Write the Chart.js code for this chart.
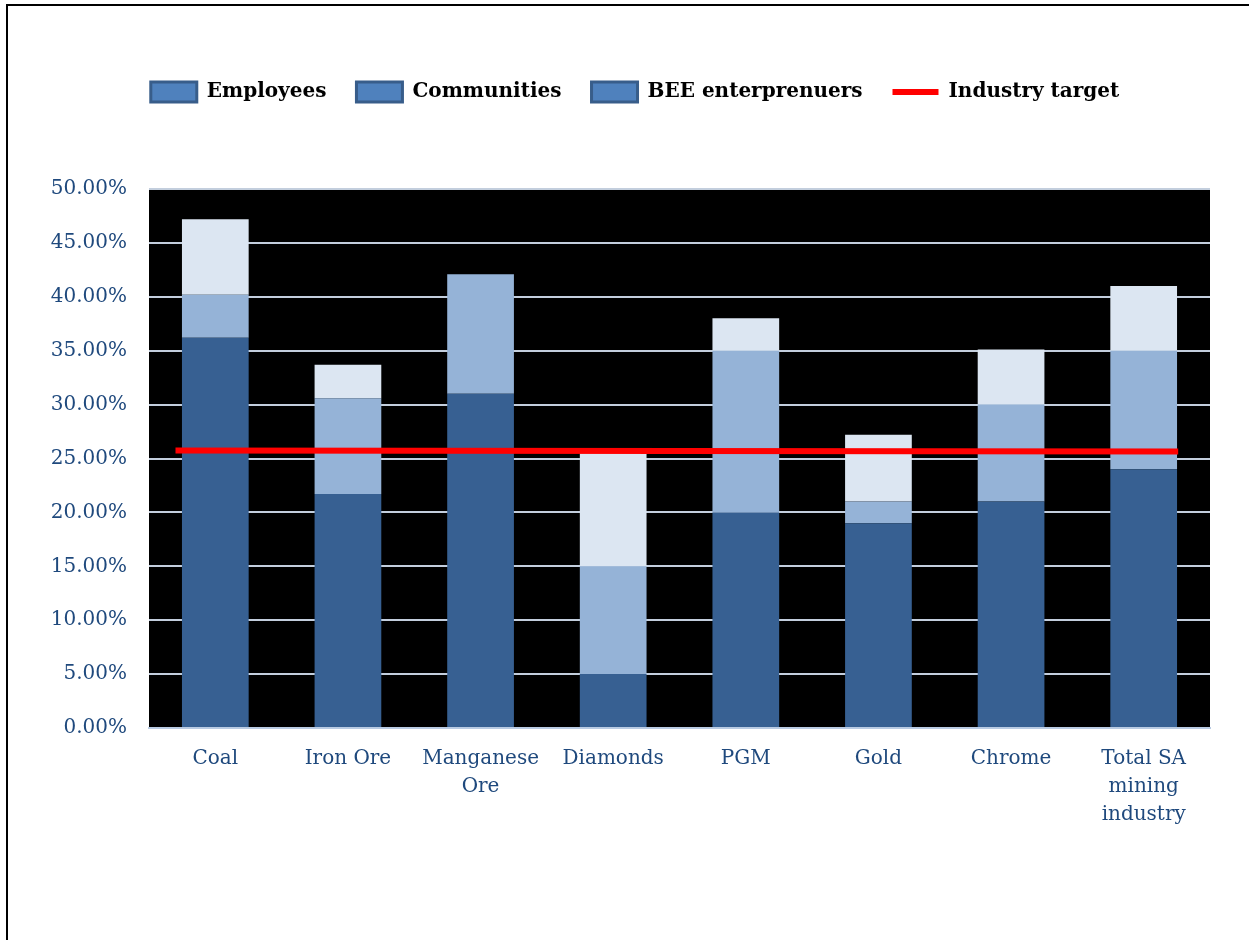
<!DOCTYPE html>
<html>
<head>
<meta charset="utf-8">
<title>Ownership by sector</title>
<script src="https://cdn.jsdelivr.net/npm/chart.js@4/dist/chart.umd.min.js"></script>
<style>
  html, body { margin: 0; padding: 0; background: #ffffff; }
  #wrap { position: relative; width: 1249px; height: 940px; overflow: hidden; }
  #frame { position: absolute; left: 6px; top: 4px; width: 1300px; height: 1000px;
           border-top: 2px solid #000; border-left: 2px solid #000; pointer-events: none; }
  canvas { position: absolute; left: 0; top: 0; }
</style>
</head>
<body>
<div id="wrap">
  <canvas id="chart" width="1249" height="940"></canvas>
  <div id="frame"></div>
</div>
<script>
// Sectors along the x axis
const categories = ['Coal', 'Iron Ore', ['Manganese', 'Ore'], 'Diamonds', 'PGM', 'Gold', 'Chrome', ['Total SA', 'mining', 'industry']];

// Stacked ownership shares, in percent
const employees        = [36.2, 21.7, 31.0, 5.0, 20.0, 19.0, 21.0, 24.0];
const communities      = [4.0, 8.9, 11.1, 10.0, 15.0, 2.0, 9.0, 11.0];
const beeEntrepreneurs = [7.0, 3.1, 0.0, 10.5, 3.0, 6.2, 5.1, 6.0];

// Industry target line: category-index span and value at each end
const targetSpan  = [-0.3, 7.26];
const targetValue = [25.75, 25.65];

// Y axis ticks
const yTicks = [0, 5, 10, 15, 20, 25, 30, 35, 40, 45, 50];

const seriesNames = ['Employees', 'Communities', 'BEE enterprenuers', 'Industry target'];

Chart.defaults.font.family = "'DejaVu Serif', serif";

// Black plotting area behind grid and bars
const plotBackground = {
  id: 'plotBackground',
  beforeDraw(chart) {
    const { ctx, chartArea: a } = chart;
    ctx.save();
    ctx.fillStyle = '#000000';
    ctx.fillRect(a.left, a.top, a.right - a.left, a.bottom - a.top);
    ctx.restore();
  }
};

// Extra room under the legend, and a small horizontal nudge of the legend row
const legendSpace = {
  id: 'legendSpace',
  beforeInit(chart) {
    const fit = chart.legend.fit;
    chart.legend.fit = function () {
      fit.call(this);
      this.height = 137;
    };
  },
  afterLayout(chart) {
    const lg = chart.legend;
    lg.left += 15;
    lg.right += 15;
  }
};

const tickColor = '#1F497D';

new Chart(document.getElementById('chart'), {
  type: 'bar',
  data: {
    labels: categories,
    datasets: [
      { label: seriesNames[0], data: employees, backgroundColor: '#376092', order: 1 },
      { label: seriesNames[1], data: communities, backgroundColor: '#95B3D7', order: 1 },
      { label: seriesNames[2], data: beeEntrepreneurs, backgroundColor: '#DCE6F2', order: 1 },
      {
        type: 'line',
        label: seriesNames[3],
        data: targetSpan.map((x, i) => ({ x: x, y: targetValue[i] })),
        xAxisID: 'xl',
        borderColor: '#FF0000',
        backgroundColor: '#FF0000',
        borderWidth: 6,
        pointRadius: 0,
        tension: 0,
        order: 0
      }
    ]
  },
  options: {
    responsive: false,
    animation: false,
    devicePixelRatio: 1,
    layout: { padding: { top: 52, left: 30, right: 39, bottom: 0 } },
    datasets: { bar: { barPercentage: 0.503, categoryPercentage: 1.0, borderWidth: 0, grouped: false } },
    scales: {
      x: {
        stacked: true,
        grid: { display: false },
        border: { display: true, color: '#B9CBE3', width: 2 },
        ticks: {
          color: tickColor,
          font: { size: 20, lineHeight: 1.4 },
          padding: 9,
          maxRotation: 0,
          autoSkip: false
        },
        afterFit(scale) { scale.height = 212; }
      },
      xl: {
        type: 'linear',
        display: false,
        offset: false,
        min: -0.5,
        max: 7.5
      },
      y: {
        stacked: true,
        min: 0,
        max: 50,
        afterBuildTicks(scale) { scale.ticks = yTicks.map(v => ({ value: v })); },
        grid: { color: '#C3CEDD', lineWidth: 2, drawTicks: false },
        border: { display: false },
        ticks: {
          color: tickColor,
          font: { size: 20 },
          padding: 22,
          callback: v => v.toFixed(2) + '%'
        },
        afterFit(scale) { scale.width = 119; }
      }
    },
    plugins: {
      tooltip: { enabled: false },
      legend: {
        position: 'top',
        align: 'center',
        labels: {
          usePointStyle: true,
          pointStyleWidth: 46,
          boxHeight: 20,
          padding: 30,
          color: '#000000',
          font: { size: 20, weight: 'bold' },
          generateLabels(chart) {
            return chart.data.datasets.map((ds, i) => {
              const isLine = ds.type === 'line';
              return {
                text: ds.label,
                datasetIndex: i,
                fillStyle: isLine ? '#FF0000' : '#4F81BD',
                strokeStyle: isLine ? '#FF0000' : '#385D8A',
                lineWidth: isLine ? 6 : 3,
                pointStyle: isLine ? 'line' : 'rect',
                fontColor: '#000000',
                hidden: false
              };
            });
          }
        }
      }
    }
  },
  plugins: [plotBackground, legendSpace]
});
</script>
</body>
</html>
